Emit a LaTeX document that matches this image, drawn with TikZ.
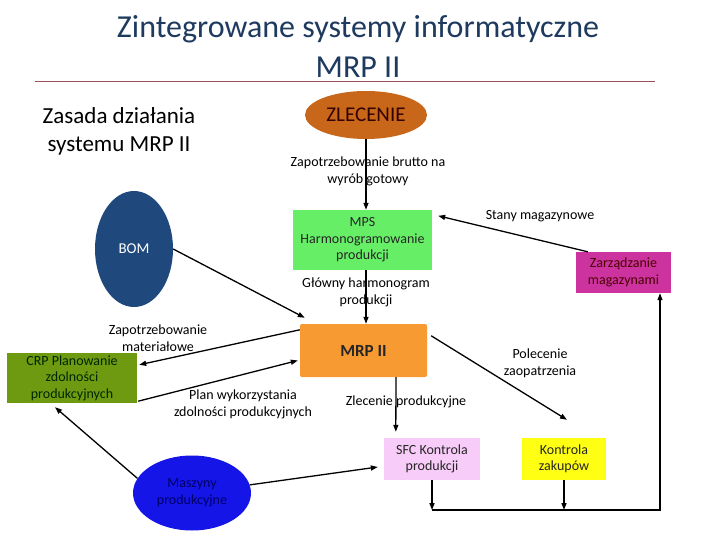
\documentclass[tikz,border=0pt]{standalone}
\usepackage{fontspec}
\setmainfont{Carlito}
\usetikzlibrary{arrows.meta,calc,shapes.geometric}
\definecolor{titleblue}{HTML}{1F3A5F}
\definecolor{rulecol}{HTML}{9B5060}
\definecolor{zleccol}{HTML}{C8661A}
\definecolor{mpscol}{HTML}{66EE66}
\definecolor{mrpcol}{HTML}{F89A32}
\definecolor{bomcol}{HTML}{1F497D}
\definecolor{crpcol}{HTML}{6E9A12}
\definecolor{mascol}{HTML}{1515E8}
\definecolor{sfccol}{HTML}{F8CCF8}
\definecolor{kzcol}{HTML}{FFFF14}
\definecolor{zmcol}{HTML}{CC339E}
\begin{document}
\begin{tikzpicture}[x=1pt,y=-1pt,
  arr/.style={-{Triangle[length=7pt,width=5pt]}, line width=1.3pt},
  box/.style={rectangle, inner sep=0pt, align=center, font=\fontsize{14}{16.5}\selectfont},
  oval/.style={ellipse, inner sep=0pt, align=center},
  lbl/.style={align=center, inner sep=0pt, font=\fontsize{14}{17}\selectfont}]
\useasboundingbox (0,0) rectangle (720,540);
\fill[white] (0,0) rectangle (720,540);
% title
\node[anchor=base, font=\fontsize{32}{39}\selectfont, text=titleblue, inner sep=0pt] (t1) at (358,38) {Zintegrowane systemy informatyczne};
\node[anchor=base, font=\fontsize{32}{39}\selectfont, text=titleblue, inner sep=0pt] (t2) at (358,78) {MRP II};
\draw[rulecol, line width=0.9pt] (35,81) -- (655,81);
\node[align=center, inner sep=0pt, font=\fontsize{23}{28}\selectfont] (sub) at (119,131) {Zasada działania\\systemu MRP II};
% nodes
\node[oval, fill=zleccol, minimum width=122, minimum height=48, font=\fontsize{21}{24}\selectfont, text={black!80!red}] (zlec) at (366,115) {ZLECENIE};
\node[box, fill=mpscol, minimum width=139, minimum height=60, text={black!85}] (mps) at (362.5,240) {MPS\\Harmonogramowanie\\produkcji};
\node[box, fill=mrpcol, minimum width=127, minimum height=53, rounded corners=2pt, font=\fontsize{17}{20}\selectfont\bfseries, text={black!85}] (mrp) at (363.5,350.5) {MRP II};
\node[oval, fill=bomcol, minimum width=78, minimum height=116, font=\fontsize{15}{18}\selectfont, text=white] (bom) at (134,249) {BOM};
\node[box, fill=crpcol, minimum width=130, minimum height=50, text={black!85!green}] (crp) at (72,378) {CRP Planowanie\\zdolności\\produkcyjnych};
\node[oval, fill=mascol, minimum width=118, minimum height=75, font=\fontsize{14}{17}\selectfont, text={blue!40!black}] (mas) at (192,493) {Maszyny\\produkcyjne};
\node[box, fill=sfccol, minimum width=96, minimum height=42, text={black!85}] (sfc) at (432,459) {SFC Kontrola\\produkcji};
\node[box, fill=kzcol, minimum width=84, minimum height=42, text={black!85}] (kz) at (564,459) {Kontrola\\zakupów};
\node[box, fill=zmcol, minimum width=95, minimum height=41, text={black!70!red}] (zm) at (623.5,272.5) {Zarządzanie\\magazynami};
% labels
\node[lbl] (l1) at (368,171) {Zapotrzebowanie brutto na\\wyrób gotowy};
\node[lbl] (l2) at (366,292) {Główny harmonogram\\produkcji};
\node[lbl] (l3) at (158,338) {Zapotrzebowanie\\materiałowe};
\node[lbl] (l4) at (243,404) {Plan wykorzystania\\zdolności produkcyjnych};
\node[lbl] (l5) at (406,402) {Zlecenie produkcyjne};
\node[lbl] (l6) at (540,363) {Polecenie\\zaopatrzenia};
\node[lbl] (l7) at (540,216) {Stany magazynowe};
% connectors
\draw[arr] (zlec.south) -- (zlec.south |- mps.north);
\draw[arr] (mps.south -| zlec.south) -- (mrp.north -| zlec.south);
\draw[arr] (bom.east) -- ($(mrp.north west)+(5,-6)$);
\draw[arr] ($(mrp.north west)+(0,6)$) -- ($(crp.north east)+(2,12)$);
\draw[arr] ($(crp.south east)+(1,-2)$) -- ($(mrp.west)+(-2,10)$);
\draw[arr] (mas.165) -- ($(crp.south)+(-17,4)$);
\draw[arr] (mas.8) -- ($(sfc.west)+(-6,8)$);
\draw[arr] ($(mrp.south)+(32.5,0)$) -- ($(sfc.north west)+(12,-6)$);
\draw[arr] ($(mrp.north east)+(4,12)$) -- ($(kz.north)+(3,-18)$);
\draw[arr] ($(zm.north west)+(12,0)$) -- ($(mps.north east)+(6,6)$);
\coordinate (corner) at (660,510);
\draw[arr] (sfc.south) -- (sfc.south |- corner);
\draw[arr] (kz.south) -- (kz.south |- corner);
\draw[arr] (sfc.south |- corner) -- (corner) -- (corner |- zm.south);
\end{tikzpicture}
\end{document}
